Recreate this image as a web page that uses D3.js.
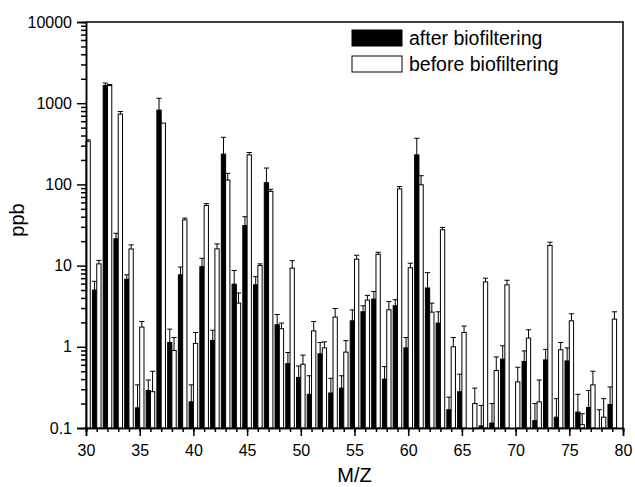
<!DOCTYPE html>
<html>
<head>
<meta charset="utf-8">
<script src="https://cdn.jsdelivr.net/npm/d3@7"></script>
<style>
  body { margin: 0; background: #fff; }
  text { font-family: "Liberation Sans", Arial, sans-serif; fill: #000; }
</style>
</head>
<body>
<div id="chart"></div>
<script>
// M/Z values on the x axis
var mz = d3.range(30, 80);

// after biofiltering (black bars), ppb, and top of the error bar
var afterVals = [null, 5.0, 1650, 21.4, 6.8, 0.177, 0.29, 822, 1.13, 7.7,
  0.21, 9.7, 1.2, 236, 5.9, 31.2, 5.8, 105, 1.87, 0.62,
  0.42, 0.26, 0.82, 0.27, 0.31, 2.09, 2.7, 3.87, 0.4, 3.2,
  0.97, 231, 5.3, 1.96, 0.168, 0.28, null, 0.106, 0.115, 0.705,
  null, 0.66, 0.123, 0.69, 0.136, 0.67, 0.157, 0.179, 0.1, 0.195];
var afterErr = [null, 6.4, 1770, 25, 7.7, 0.34, 0.39, 1150, 1.65, 9.6,
  0.34, 12.3, 1.6, 380, 8.7, 40, 7.3, 159, 2.5, 0.85,
  0.58, 0.44, 1.13, 0.41, 0.44, 2.85, 3.2, 4.8, 0.57, 3.8,
  1.3, 370, 8.2, 2.7, 0.24, 0.46, null, 0.19, 0.2, 1.03,
  null, 0.89, 0.2, 0.93, 0.23, 0.97, 0.26, 0.29, 0.168, 0.32];

// before biofiltering (white bars)
var beforeVals = [340, 10.5, 1650, 734, 16, 1.75, 0.28, 569, 0.9, 36.6,
  1.1, 55, 16.1, 113, 3.45, 231, 10.0, 82, 1.67, 9.3,
  0.61, 1.57, 0.97, 2.32, 0.86, 12.0, 3.76, 13.8, 2.86, 88,
  9.4, 99, 2.67, 27.6, 1.0, 1.5, 0.2, 6.3, 0.51, 5.8,
  0.37, 1.28, 0.21, 17.7, 0.92, 2.09, 0.11, 0.34, 0.136, 2.19];
var beforeErr = [353, 11.6, 1700, 790, 18, 2.05, 0.5, 569, 1.3, 38.5,
  1.5, 58, 18.5, 137, 4.6, 247, 10.5, 87, 1.96, 11.5,
  0.79, 2.05, 1.15, 2.96, 1.19, 13.4, 4.3, 14.6, 3.6, 94,
  10.7, 128, 3.45, 29.5, 1.3, 1.8, 0.31, 7.0, 0.75, 6.6,
  0.56, 1.62, 0.39, 19.4, 1.13, 2.55, 0.15, 0.5, 0.23, 2.7];

var xTicks = [30, 35, 40, 45, 50, 55, 60, 65, 70, 75, 80];
var yTicks = [0.1, 1, 10, 100, 1000, 10000];
var yTickLabels = ["0.1", "1", "10", "100", "1000", "10000"];

const svgWidth = 635;
const svgHeight = 487;

const margin = {
    top: 22,
    right: 12,
    bottom: 59,
    left: 86
};

const width = svgWidth - margin.left - margin.right;
const height = svgHeight - margin.top - margin.bottom;

const svg = d3.select("#chart")
    .append("svg")
    .attr("width", svgWidth)
    .attr("height", svgHeight);

const chartGroup = svg.append("g")
    .attr("transform", `translate(${margin.left}, ${margin.top})`);

var xScale = d3.scaleLinear()
    .domain([30, 80])
    .range([0, width]);

var yScale = d3.scaleLog()
    .domain([0.1, 10000])
    .range([height, 0]);

var unit = xScale(1) - xScale(0);
var barW = unit * 0.4;

var rows = mz.map((m, i) => ({
    mz: m,
    after: afterVals[i], afterE: afterErr[i],
    before: beforeVals[i], beforeE: beforeErr[i]
}));

// bars
var barsGroup = chartGroup.append("g");

function drawSeries(key, errKey, offset, fill) {
    var d0 = rows.filter(d => d[key] !== null);

    barsGroup.selectAll(".bar-" + key)
        .data(d0)
        .enter()
        .append("rect")
        .attr("x", d => xScale(d.mz) + offset)
        .attr("y", d => yScale(d[key]))
        .attr("width", barW)
        .attr("height", d => height - yScale(d[key]))
        .attr("fill", fill)
        .attr("stroke", "#000")
        .attr("stroke-width", 1);

    // error bars
    var errs = barsGroup.selectAll(".err-" + key)
        .data(d0.filter(d => d[errKey] > d[key]))
        .enter()
        .append("g");

    errs.append("line")
        .attr("x1", d => xScale(d.mz) + offset + barW / 2)
        .attr("x2", d => xScale(d.mz) + offset + barW / 2)
        .attr("y1", d => yScale(d[key]))
        .attr("y2", d => yScale(d[errKey]))
        .attr("stroke", "#000")
        .attr("stroke-width", 1);

    errs.append("line")
        .attr("x1", d => xScale(d.mz) + offset + barW / 2 - 2.6)
        .attr("x2", d => xScale(d.mz) + offset + barW / 2 + 2.6)
        .attr("y1", d => yScale(d[errKey]))
        .attr("y2", d => yScale(d[errKey]))
        .attr("stroke", "#000")
        .attr("stroke-width", 1);
}

drawSeries("after", "afterE", -barW, "#000");
drawSeries("before", "beforeE", 0, "#fff");

// axes
var bottomAxis = d3.axisBottom(xScale)
    .tickValues(d3.range(30, 81))
    .tickSize(4)
    .tickFormat("");

var xAxis = chartGroup.append("g")
    .attr("transform", `translate(0, ${height})`)
    .call(bottomAxis);

var bottomMajor = d3.axisBottom(xScale)
    .tickValues(xTicks)
    .tickSize(8)
    .tickPadding(9)
    .tickFormat(d3.format("d"));

chartGroup.append("g")
    .attr("transform", `translate(0, ${height})`)
    .call(bottomMajor);

var minorY = [];
for (var p = -1; p < 4; p++) {
    for (var k = 2; k <= 9; k++) minorY.push(k * Math.pow(10, p));
}

var leftMinor = d3.axisLeft(yScale)
    .tickValues(minorY)
    .tickSize(5)
    .tickFormat("");

chartGroup.append("g").call(leftMinor);

var leftAxis = d3.axisLeft(yScale)
    .tickValues(yTicks)
    .tickSize(9)
    .tickPadding(5)
    .tickFormat((d, i) => yTickLabels[i]);

var yAxis = chartGroup.append("g")
    .call(leftAxis);

chartGroup.selectAll(".tick text")
    .style("font-size", "16px")
    .style("font-family", "'Liberation Sans', Arial, sans-serif");

chartGroup.selectAll(".domain, .tick line")
    .attr("stroke", "#000")
    .attr("stroke-width", 1.5);

// frame top and right
chartGroup.append("path")
    .attr("d", `M0,0H${width}V${height}`)
    .attr("fill", "none")
    .attr("stroke", "#000")
    .attr("stroke-width", 1.5);

// axis titles
chartGroup.append("text")
    .attr("x", width / 2)
    .attr("y", height + 54)
    .attr("text-anchor", "middle")
    .style("font-size", "20px")
    .text("M/Z");

chartGroup.append("text")
    .attr("transform", "rotate(-90)")
    .attr("x", -height / 2 + 5)
    .attr("y", -62)
    .attr("text-anchor", "middle")
    .style("font-size", "20px")
    .text("ppb");

// legend
var legend = chartGroup.append("g")
    .attr("transform", `translate(${352 - margin.left}, ${30 - margin.top})`);

var legendItems = [
    { label: "after biofiltering", fill: "#000" },
    { label: "before biofiltering", fill: "#fff" }
];

legendItems.forEach((item, i) => {
    legend.append("rect")
        .attr("x", 0)
        .attr("y", i * 26)
        .attr("width", 50)
        .attr("height", 16)
        .attr("fill", item.fill)
        .attr("stroke", "#000")
        .attr("stroke-width", 1);
    legend.append("text")
        .attr("x", 57)
        .attr("y", i * 26 + 15)
        .style("font-size", "19.5px")
        .text(item.label);
});
</script>
</body>
</html>
